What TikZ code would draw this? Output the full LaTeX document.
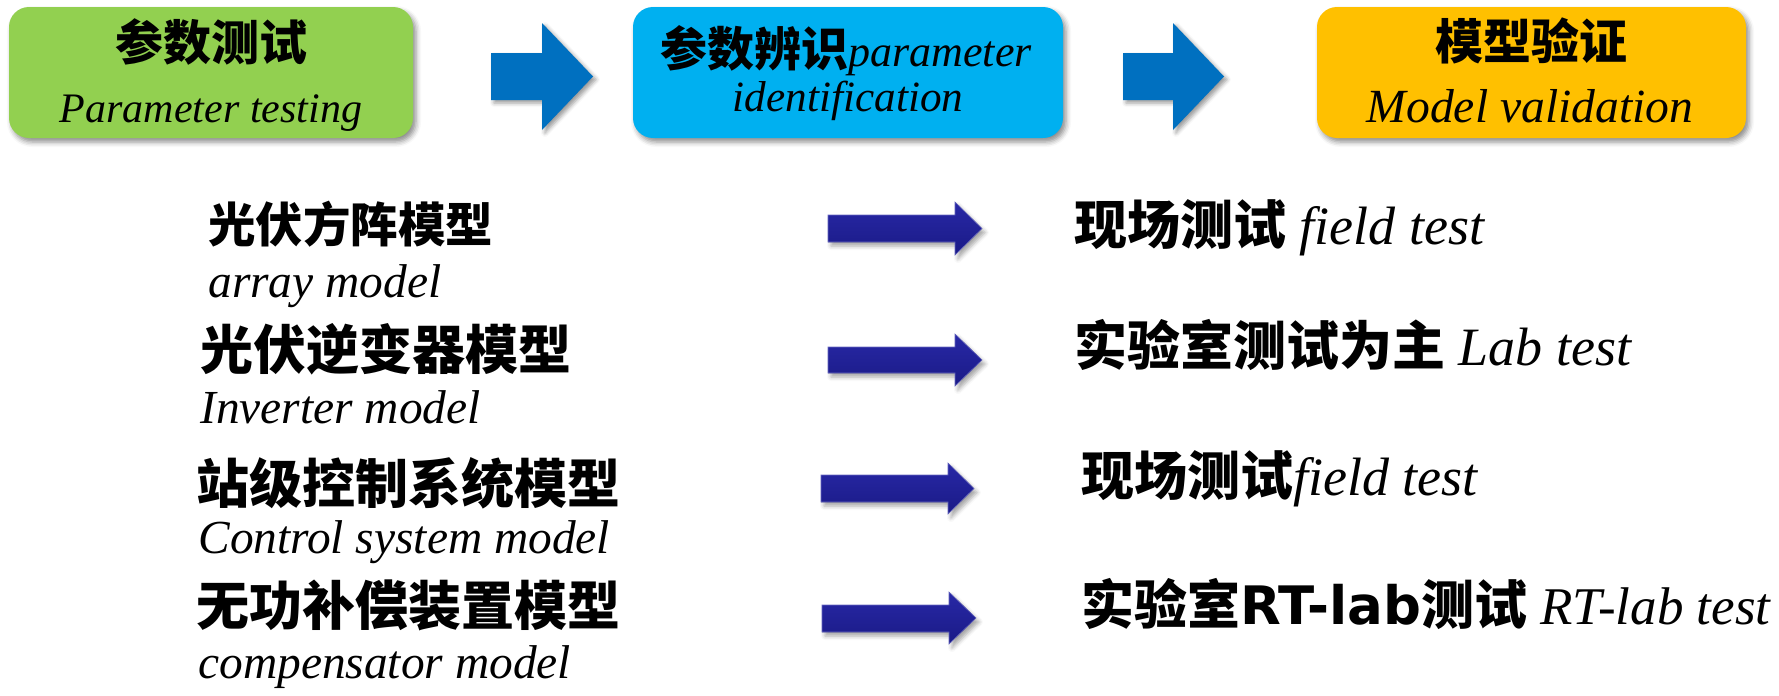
\documentclass[tikz,border=0pt]{standalone}
\usepackage{fontspec}
\setmainfont{Liberation Serif}
\newfontfamily\cjk{Noto Sans CJK SC}
\newfontfamily\latb{DejaVu Sans}
\usetikzlibrary{shadows.blur}
\definecolor{boxgreen}{HTML}{92D050}
\definecolor{boxblue}{HTML}{00B0F0}
\definecolor{boxorange}{HTML}{FFC000}
\definecolor{arrblue}{HTML}{0070C0}
\definecolor{navytop}{HTML}{2828A6}
\definecolor{navybot}{HTML}{1A1A86}
\newcommand{\fsz}[1]{\fontsize{#1}{#1}\selectfont}
\newcommand{\cj}{\cjk\bfseries}
\begin{document}
\begin{tikzpicture}[x=0.5pt,y=-0.5pt,
  topbox/.style={rounded corners=10pt, minimum height=65.5pt, inner sep=0pt,
    blur shadow={shadow xshift=1.5pt, shadow yshift=-2pt, shadow blur radius=2.5pt, shadow opacity=45}},
  txt/.style={inner sep=0pt, text=black},
  bigarrow/.style={fill=arrblue, blur shadow={shadow xshift=1.5pt, shadow yshift=-1.5pt, shadow blur radius=2pt, shadow opacity=40}},
  smallarrow/.style={top color=navytop, bottom color=navybot, draw=navytop!70!white, line width=0.3pt,
    blur shadow={shadow xshift=1.5pt, shadow yshift=-2pt, shadow blur radius=2pt, shadow opacity=35}}
]
\useasboundingbox (0,0) rectangle (1779,696);

% top boxes
\node[topbox, fill=boxgreen,  minimum width=202pt]   (b1) at (211,72.5) {};
\node[topbox, fill=boxblue,   minimum width=215pt]   (b2) at (848,72.5) {};
\node[topbox, fill=boxorange, minimum width=214.5pt] (b3) at (1531.5,72.5) {};

\node[txt, anchor=base, font={\fsz{24}\cj}] (b1a) at (211,61) {参数测试};
\node[txt, anchor=base, font={\fsz{21}\itshape}] (b1b) at (211,122) {Parameter testing};

\node[txt, anchor=base] (b2a) at (846,66) {{\fsz{23.5}\cj 参数辨识}{\fsz{22}\itshape parameter}};
\node[txt, anchor=base, font={\fsz{21.6}\itshape}] (b2b) at (848,111) {identification};

\node[txt, anchor=base, font={\fsz{24}\cj}] (b3a) at (1531,59) {模型验证};
\node[txt, anchor=base, font={\fsz{23.8}\itshape}] (b3b) at (1530,122) {Model validation};

% top block arrows
\fill[bigarrow] (491,53) -- (542,53) -- (542,23) -- (593,76.5) -- (542,130) -- (542,100) -- (491,100) -- cycle;
\fill[bigarrow] (1123,53) -- (1173,53) -- (1173,23) -- (1224,76.5) -- (1173,130) -- (1173,100) -- (1123,100) -- cycle;

% left column
\node[txt, anchor=base west, font={\fsz{23.75}\cj}] (l1a) at (208,242) {光伏方阵模型};
\node[txt, anchor=base west, font={\fsz{23.7}\itshape}] (l1b) at (208,297) {array model};
\node[txt, anchor=base west, font={\fsz{26.5}\cj}] (l2a) at (200,369) {光伏逆变器模型};
\node[txt, anchor=base west, font={\fsz{23.7}\itshape}] (l2b) at (200,423) {Inverter model};
\node[txt, anchor=base west, font={\fsz{26.5}\cj}] (l3a) at (196,503) {站级控制系统模型};
\node[txt, anchor=base west, font={\fsz{23.7}\itshape}] (l3b) at (198,553) {Control system model};
\node[txt, anchor=base west, font={\fsz{26.5}\cj}] (l4a) at (196,625) {无功补偿装置模型};
\node[txt, anchor=base west, font={\fsz{23.7}\itshape}] (l4b) at (198,678) {compensator model};

% small arrows
\fill[smallarrow] (828,215) -- (955,215) -- (955,202) -- (982,228.5) -- (955,255) -- (955,242) -- (828,242) -- cycle;
\fill[smallarrow] (828,347) -- (955,347) -- (955,334) -- (982,360) -- (955,386) -- (955,373) -- (828,373) -- cycle;
\fill[smallarrow] (821,475) -- (948,475) -- (948,463) -- (974,488.5) -- (948,514) -- (948,502) -- (821,502) -- cycle;
\fill[smallarrow] (822,605) -- (949,605) -- (949,592) -- (976,618) -- (949,644) -- (949,632) -- (822,632) -- cycle;

% right column
\node[txt, anchor=base west, font=\fsz{26.5}] (r1) at (1074,244) {{\cj 现场测试} {\fsz{27}\itshape field test}};
\node[txt, anchor=base west, font=\fsz{26.5}] (r2) at (1074,365) {{\cj 实验室测试为主} {\fsz{27}\itshape Lab test}};
\node[txt, anchor=base west, font=\fsz{26.5}] (r3) at (1081,495) {{\cj 现场测试}{\fsz{27}\itshape field test}};
\node[txt, anchor=base west, font=\fsz{26.5}] (r4) at (1081,624) {{\cj 实验室}{\latb\bfseries RT-lab}{\cj 测试} {\fsz{26.5}\itshape RT-lab test}};
\end{tikzpicture}
\end{document}
